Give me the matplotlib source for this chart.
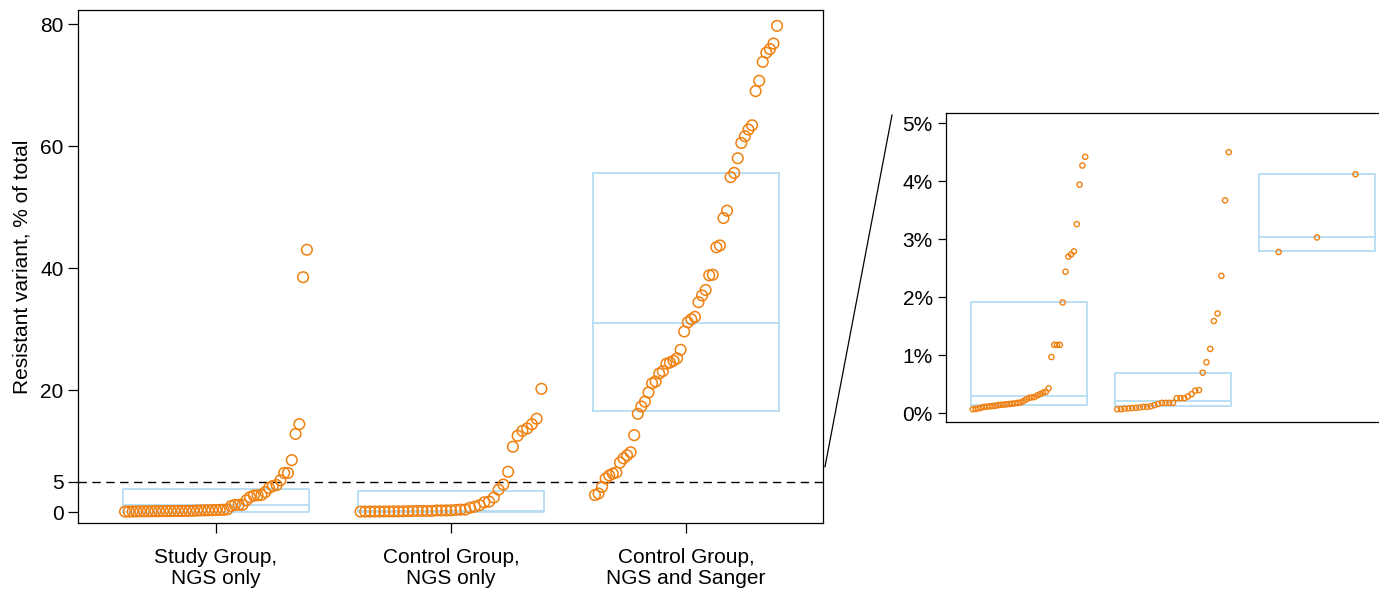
import matplotlib
matplotlib.use('Agg')
import matplotlib.pyplot as plt
from matplotlib.lines import Line2D
import numpy as np

plt.rcParams['font.family'] = ['Liberation Sans', 'DejaVu Sans']

# Groups on the x axis
groups = ['Study Group,\nNGS only', 'Control Group,\nNGS only', 'Control Group,\nNGS and Sanger']

# Resistant variant, % of total (sorted per group)
study_ngs = [0.07, 0.075, 0.085, 0.095, 0.11, 0.115, 0.12, 0.125, 0.13, 0.14,
             0.145, 0.15, 0.155, 0.16, 0.165, 0.17, 0.18, 0.185, 0.21, 0.24,
             0.265, 0.275, 0.28, 0.31, 0.33, 0.355, 0.37, 0.43, 0.97, 1.18,
             1.18, 1.18, 1.91, 2.44, 2.70, 2.74, 2.79, 3.26, 3.94, 4.27,
             4.42, 5.2, 6.4, 6.4, 8.5, 12.8, 14.4, 38.5, 43.0]
control_ngs = [0.07, 0.07, 0.08, 0.085, 0.09, 0.095, 0.10, 0.11, 0.11, 0.12,
               0.14, 0.16, 0.18, 0.18, 0.18, 0.18, 0.26, 0.26, 0.26, 0.29,
               0.33, 0.39, 0.40, 0.70, 0.88, 1.11, 1.59, 1.72, 2.37, 3.67,
               4.50, 6.6, 10.7, 12.5, 13.3, 13.7, 14.4, 15.3, 20.2]
control_sanger = [2.78, 3.03, 4.12, 5.5, 6.0, 6.3, 6.5, 8.1, 8.8, 9.3,
                  9.8, 12.6, 16.1, 17.3, 18.1, 19.6, 21.1, 21.4, 22.7, 23.1,
                  24.3, 24.5, 24.8, 25.2, 26.6, 29.6, 31.1, 31.6, 32.0, 34.4,
                  35.5, 36.4, 38.8, 38.9, 43.4, 43.7, 48.2, 49.4, 54.9, 55.6,
                  58.0, 60.5, 61.6, 62.7, 63.4, 69.0, 70.7, 73.8, 75.3, 75.9,
                  76.8, 79.7]

# Box statistics as drawn (lower edge, middle line, upper edge)
main_q1 = [0.05, 0.05, 16.6]
main_med = [1.1, 0.2, 31.0]
main_q3 = [3.7, 3.4, 55.6]
inset_q1 = [0.15, 0.12, 2.79]
inset_med = [0.29, 0.22, 3.04]
inset_q3 = [1.91, 0.70, 4.13]

threshold = 5

orange = '#f08010'
light_blue = '#b5dcf3'


def draw_boxes(ax, q1, med, q3, width):
    stats = [{'q1': a, 'med': m, 'q3': b, 'whislo': a, 'whishi': b, 'fliers': []}
             for a, m, b in zip(q1, med, q3)]
    ax.bxp(stats, positions=range(len(stats)), widths=width, showcaps=False,
           showfliers=False, manage_ticks=False,
           boxprops=dict(color=light_blue, linewidth=1.3),
           medianprops=dict(color=light_blue, linewidth=1.3),
           whiskerprops=dict(color=light_blue, linewidth=0))


def draw_points(ax, values, pos, width, size, lw):
    n = len(values)
    xs = pos - width / 2 + (np.arange(n) + 0.5) / n * width
    ax.scatter(xs, values, s=size, facecolors='none', edgecolors=orange,
               linewidths=lw, zorder=3)


W, H = 1379, 590
fig = plt.figure(figsize=(W / 100, H / 100), dpi=100)

# main panel
ax = fig.add_axes([78 / W, 67 / H, (823 - 78) / W, (523 - 10) / H])
data = [study_ngs, control_ngs, control_sanger]
draw_boxes(ax, main_q1, main_med, main_q3, 0.79)
for i, vals in enumerate(data):
    draw_points(ax, vals, i, 0.79, 58, 1.1)
ax.axhline(threshold, color='black', linestyle=(0, (6, 4)), linewidth=1.0, zorder=1)
ax.set_xlim(-0.587, 2.583)
ax.set_ylim(-1.8, 82.3)
ax.set_yticks([0, 5, 20, 40, 60, 80])
ax.set_xticks(range(3))
ax.set_xticklabels(groups, linespacing=1.15)
ax.tick_params(axis='both', labelsize=15, length=7, width=0.9)
ax.tick_params(axis='x', pad=11)
ax.set_ylabel('Resistant variant, % of total', fontsize=15, labelpad=6)
for sp in ax.spines.values():
    sp.set_linewidth(0.9)

# zoomed panel: values below the threshold
ax2 = fig.add_axes([946 / W, (590 - 421.7) / H, (1379 - 946) / W, (421.7 - 113.3) / H])
low = [[v for v in vals if v < threshold] for vals in data]
draw_boxes(ax2, inset_q1, inset_med, inset_q3, 0.8)
for i, vals in enumerate(low):
    draw_points(ax2, vals, i, 0.8, 14, 1.0)
ax2.set_xlim(-0.576, 2.43)
ax2.set_ylim(-0.145, 5.17)
ax2.set_yticks(range(6))
ax2.set_yticklabels([f'{t}%' for t in range(6)])
ax2.set_xticks([])
ax2.tick_params(axis='y', labelsize=15, length=6, width=0.9)
ax2.spines['right'].set_visible(False)
for sp in ax2.spines.values():
    sp.set_linewidth(0.9)

# connector from main panel to zoomed panel
fig.add_artist(Line2D([825 / W, 892 / W], [1 - 466.7 / H, 1 - 115 / H],
                      color='black', linewidth=0.9))

fig.savefig('out.png', dpi=100)
